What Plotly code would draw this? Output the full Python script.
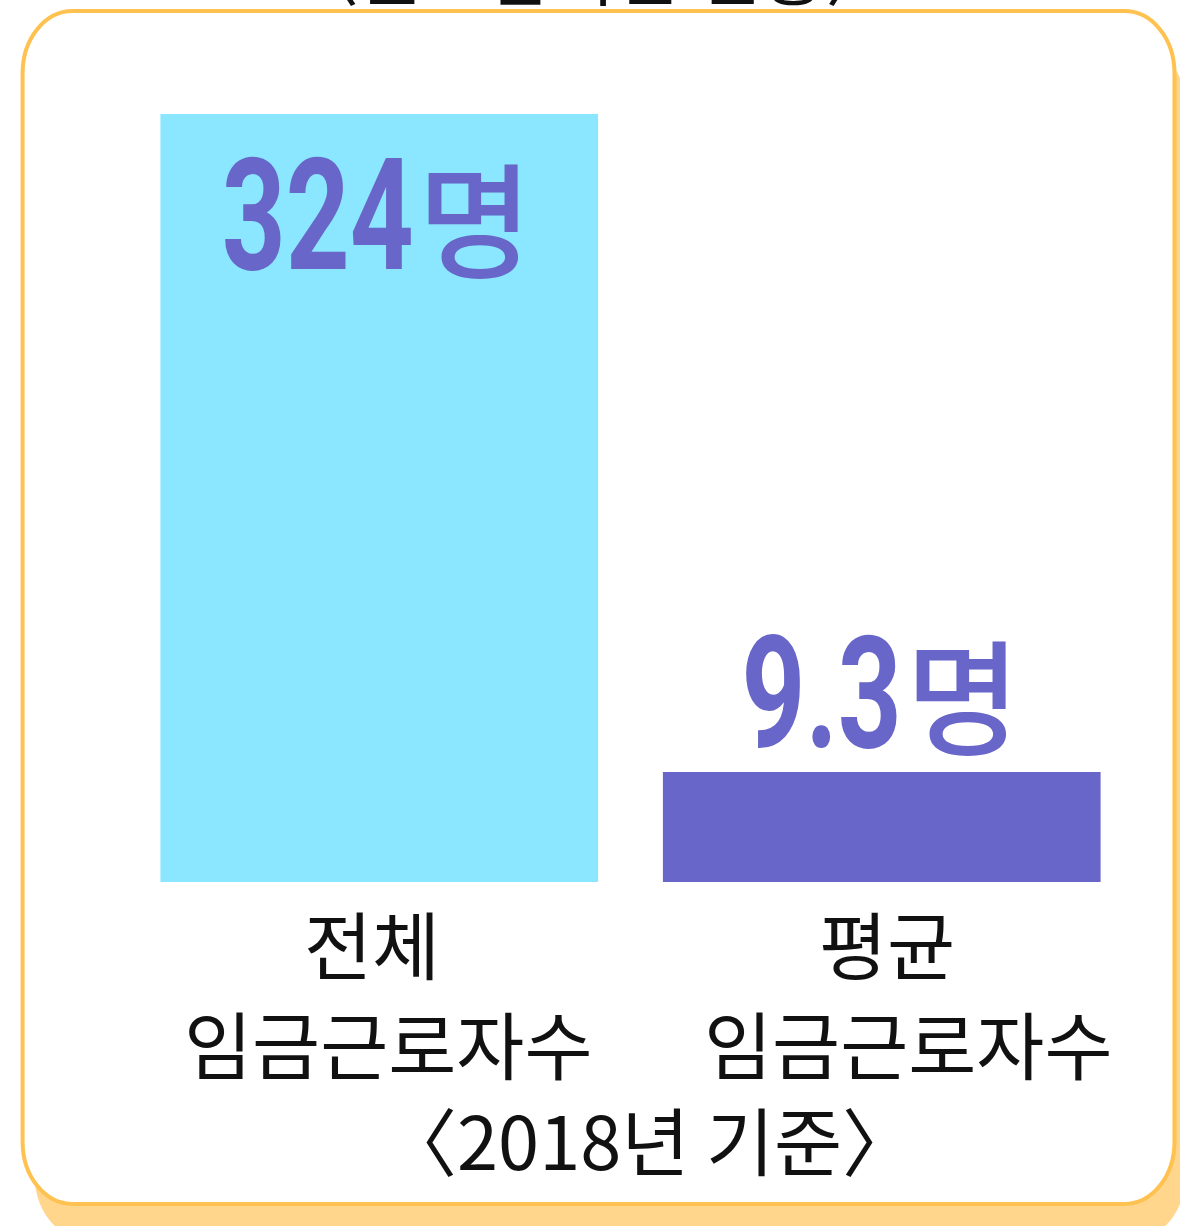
import math
import plotly.graph_objects as go

# ---- data ----
categories = ["전체 임금근로자수", "평균 임금근로자수"]
values = [324, 9.3]
unit = "명"
bar_colors = ["#8BE6FF", "#6866C8"]
label_color = "#6866C8"
note_text = "〈2018년 기준〉"
top_title = "〈근로감독관 현황〉"

# ---- layout geometry (pixels) ----
W, H = 1180, 1226
ML, MR, MT, MB = 127.5, 46.5, 114, 344
PW = W - ML - MR
PH = H - MT - MB
Y_LOW = 0.7108  # log10 of the axis floor


def px(x):
    return (x - ML) / PW


def py(y):
    return (H - MB - y) / PH


def rrect(x0, y0, x1, y1, rx, ry):
    k = 0.5523
    pts = [
        f"M{px(x0 + rx)},{py(y0)}",
        f"L{px(x1 - rx)},{py(y0)}",
        f"C{px(x1 - rx + k * rx)},{py(y0)} {px(x1)},{py(y0 + ry - k * ry)} {px(x1)},{py(y0 + ry)}",
        f"L{px(x1)},{py(y1 - ry)}",
        f"C{px(x1)},{py(y1 - ry + k * ry)} {px(x1 - rx + k * rx)},{py(y1)} {px(x1 - rx)},{py(y1)}",
        f"L{px(x0 + rx)},{py(y1)}",
        f"C{px(x0 + rx - k * rx)},{py(y1)} {px(x0)},{py(y1 - ry + k * ry)} {px(x0)},{py(y1 - ry)}",
        f"L{px(x0)},{py(y0 + ry)}",
        f"C{px(x0)},{py(y0 + ry - k * ry)} {px(x0 + rx - k * rx)},{py(y0)} {px(x0 + rx)},{py(y0)}",
        "Z",
    ]
    return " ".join(pts)


fig = go.Figure()
fig.add_trace(go.Bar(
    x=categories,
    y=values,
    marker=dict(color=bar_colors, line=dict(width=0)),
    hoverinfo="skip",
    showlegend=False,
))

shapes = [
    dict(type="path", xref="paper", yref="paper", layer="below",
         path=rrect(34, 40, 1186, 1242, 58, 66),
         fillcolor="#FFD68C", line=dict(width=0)),
    dict(type="path", xref="paper", yref="paper", layer="below",
         path=rrect(22, 11, 1175, 1204, 50, 62),
         fillcolor="#FFFFFF", line=dict(color="#FFC150", width=4)),
]

digit_font = "Roboto, Arial, sans-serif"
kr_font = "Noto Sans CJK KR, sans-serif"

annotations = []
# value labels: number part (condensed later) + unit part
label_pos = [
    # (xshift boundary, yshift digits, yshift unit)
    (37, -102, -100),
    (22, 78, 81),
]
for cat, v, (xs, ysd, ysu) in zip(categories, values, label_pos):
    annotations.append(dict(
        x=cat, y=math.log10(v), xref="x", yref="y",
        text=f"<b>{v:g}</b>", showarrow=False, xanchor="right", yanchor="middle",
        xshift=xs, yshift=ysd,
        font=dict(family=digit_font, size=155, color=label_color),
    ))
    annotations.append(dict(
        x=cat, y=math.log10(v), xref="x", yref="y",
        text=unit, showarrow=False, xanchor="left", yanchor="middle",
        xshift=xs, yshift=ysu,
        font=dict(family=kr_font, size=124, color=label_color, weight=500),
    ))

# category labels (two lines each)
line_shifts = [(-7, 9), (5, 26)]
for cat, (s1, s2) in zip(categories, line_shifts):
    first, second = cat.split(" ")
    annotations.append(dict(
        x=cat, y=py(941), xref="x", yref="paper", text=first, showarrow=False,
        yanchor="middle", xshift=s1, font=dict(family=kr_font, size=74, color="#111111"),
    ))
    annotations.append(dict(
        x=cat, y=py(1041), xref="x", yref="paper", text=second, showarrow=False,
        yanchor="middle", xshift=s2, font=dict(family=kr_font, size=74, color="#111111"),
    ))

# footnote
annotations.append(dict(
    x=px(650), y=py(1137), xref="paper", yref="paper", text=note_text, showarrow=False,
    yanchor="middle", xanchor="center", font=dict(family=kr_font, size=74, color="#111111"),
))
# cut-off title at the very top (only its lower edge shows, as in the source)
annotations.append(dict(
    x=px(592), y=py(-31), xref="paper", yref="paper", text=top_title, showarrow=False,
    yanchor="middle", xanchor="center", font=dict(family=kr_font, size=70, color="#111111"),
))

fig.update_layout(
    width=W, height=H,
    margin=dict(l=ML, r=MR, t=MT, b=MB, pad=0),
    paper_bgcolor="#FFFFFF",
    plot_bgcolor="rgba(0,0,0,0)",
    bargap=0.129,
    xaxis=dict(range=[-0.5, 1.5], visible=False, fixedrange=True),
    yaxis=dict(type="log", range=[Y_LOW, math.log10(values[0])], visible=False, fixedrange=True),
    shapes=shapes,
    annotations=annotations,
    showlegend=False,
)

post = """
document.body.style.margin = '0';
document.body.style.overflow = 'hidden';
var gd = document.getElementById('{plot_id}');
gd.querySelectorAll('text.annotation-text').forEach(function (t) {
  if (/^[0-9.]+$/.test(t.textContent.trim())) {
    var b = t.getBBox();
    var X = b.x + b.width;
    t.setAttribute('transform', 'translate(' + X + ',0) scale(0.72,1) translate(' + (-X) + ',0)');
  }
});
"""

fig.write_html("out.html", post_script=post, config={"displayModeBar": False, "staticPlot": True})
